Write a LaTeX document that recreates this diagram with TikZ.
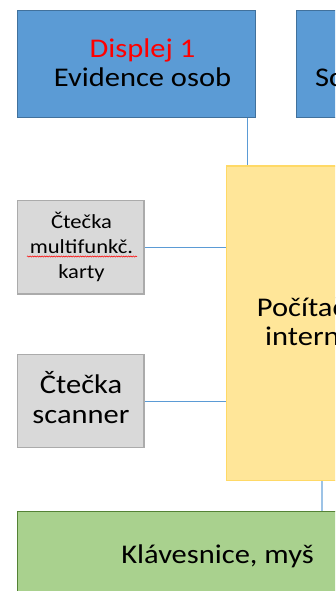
\documentclass[tikz,border=0pt]{standalone}
\usepackage{fontspec}
\setmainfont{Carlito}[FakeStretch=1.13]
\usetikzlibrary{calc,decorations.pathmorphing}

\definecolor{dispfill}{RGB}{91,155,213}
\definecolor{displine}{RGB}{65,113,156}
\definecolor{pcfill}{RGB}{255,230,153}
\definecolor{pcline}{RGB}{255,217,102}
\definecolor{devfill}{RGB}{217,217,217}
\definecolor{devline}{RGB}{171,171,171}
\definecolor{kbfill}{RGB}{169,209,142}
\definecolor{kbline}{RGB}{84,130,53}
\definecolor{wire}{RGB}{91,155,213}

\begin{document}
\begin{tikzpicture}[x=1pt,y=-1pt,
  box/.style={draw, line width=1.3pt, anchor=north west, inner sep=0pt},
  dispbox/.style={box, fill=dispfill, draw=displine},
  pcbox/.style={box, fill=pcfill, draw=pcline},
  devbox/.style={box, fill=devfill, draw=devline},
  kbbox/.style={box, fill=kbfill, draw=kbline},
  big/.style={font=\fontsize{27}{29.5}\selectfont, inner sep=0pt, align=center},
  small/.style={font=\fontsize{20}{24.7}\selectfont, inner sep=0pt, align=center},
  wireline/.style={draw=wire, line width=1pt}]

\useasboundingbox (0,0) rectangle (335,591);
\fill[white] (0,0) rectangle (335,591);
\clip (0,0) rectangle (335,591);

% boxes
\node[dispbox, minimum width=238pt, minimum height=107pt] (d1) at (17,10) {};
\node[dispbox, minimum width=238pt, minimum height=107pt] (d2) at (295.7,10) {};
\node[pcbox, minimum width=240pt, minimum height=314.7pt] (pc) at (225.7,165.3) {};
\node[devbox, minimum width=126.6pt, minimum height=93.3pt] (r1) at (16.7,200) {};
\node[devbox, minimum width=126.6pt, minimum height=92.7pt] (r2) at (16.7,354) {};
\node[kbbox, minimum width=400pt, minimum height=120pt] (kb) at (16.7,510.7) {};

% labels (base anchor = baseline of the last line)
\node[big, anchor=base] (t1) at (142.5,87) {\textcolor{red}{Displej 1}\\Evidence osob};
\node[big, anchor=base west] (t2) at (315,87) {Sc};
\node[big, anchor=base west, align=left] (t3) at (256.7,345.7) {Počítač\\\hspace*{8.3pt}intern};
\node[small, anchor=base] (t4) at (81.5,278.3) {Čtečka\\multifunkč.\\karty};
\node[big, anchor=base] (t5) at (81,423.3) {Čtečka\\scanner};
\node[big, anchor=base] (t6) at (217.5,563) {Klávesnice, myš};

% spelling mark under the card reader label
\draw[red, line width=0.5pt, decorate,
      decoration={snake, amplitude=0.6pt, segment length=2.4pt}]
  (27,256.5) -- (137,256.5);

% connections
\coordinate (a1) at ($(d1.south east)+(-9,0)$);
\draw[wireline] (a1) -- (a1 |- pc.north);
\draw[wireline] (r1.east) -- (r1.east -| pc.west);
\draw[wireline] (r2.east) -- (r2.east -| pc.west);
\coordinate (a2) at ($(pc.south west)+(96.3,0)$);
\draw[wireline, draw=wire!60, line width=1.5pt] (a2) -- (a2 |- kb.north);

\end{tikzpicture}
\end{document}
